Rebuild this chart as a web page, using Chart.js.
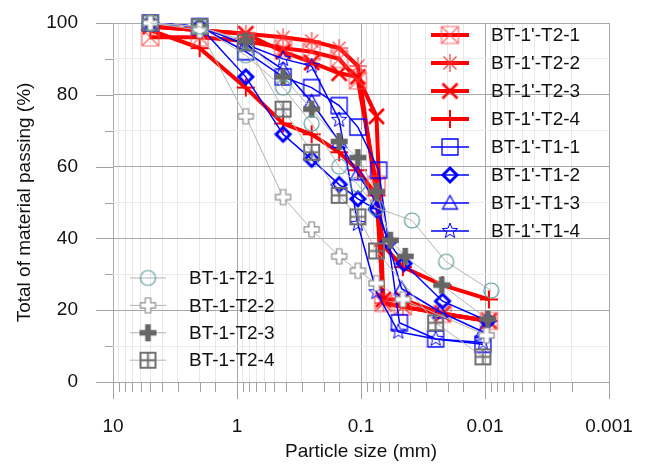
<!DOCTYPE html>
<html>
<head>
<meta charset="utf-8">
<script src="https://cdn.jsdelivr.net/npm/chart.js@4.4.1/dist/chart.umd.min.js"></script>
<style>
  body { margin: 0; background: #fff; }
  canvas { display: block; }
</style>
</head>
<body>
<canvas id="psd" width="646" height="465"></canvas>
<script>
// --- data (particle size in mm, % passing) ---
const seriesNames = [
    "BT-1'-T2-1", "BT-1'-T2-2", "BT-1'-T2-3", "BT-1'-T2-4",
    "BT-1'-T1-1", "BT-1'-T1-2", "BT-1'-T1-3", "BT-1'-T1-4",
    'BT-1-T2-1', 'BT-1-T2-2', 'BT-1-T2-3', 'BT-1-T2-4'
];

const sizesRed = [5, 2, 0.85, 0.425, 0.25, 0.15, 0.106, 0.075, 0.066, 0.046, 0.022, 0.0093];
const passT2p1 = [96, 96, 95, 93, 92, 90, 84, 55, 22, 21, 19, 17];
const passT2p2 = [99, 98, 97, 96, 95, 93, 88, 52, 22, 21, 19, 17];
const passT2p3 = [99, 98, 97, 92, 89, 86, 85, 74, 23, 23, 19, 17];
const passT2p4 = [98, 93, 82, 72, 69, 64, 59, 52, 38, 32, 27, 23];

const sizesT1p1 = [5, 2, 0.85, 0.425, 0.25, 0.15, 0.106, 0.072, 0.049, 0.025, 0.0104];
const passT1p1 = [100, 99, 92, 85, 82, 77, 71, 59, 16.5, 12, 10.5];
const sizesT1p2 = [5, 2, 0.85, 0.425, 0.25, 0.15, 0.106, 0.075, 0.06, 0.045, 0.022, 0.0095];
const passT1p2 = [100, 99, 85, 69, 62, 55, 51, 48, 39, 33, 22.5, 17];
const sizesT1p3 = [5, 2, 0.85, 0.425, 0.25, 0.15, 0.106, 0.075, 0.047, 0.023, 0.0104];
const passT1p3 = [100, 99, 94, 87, 78, 67, 58, 50, 26, 19.5, 14];
const sizesT1p4 = [5, 2, 0.85, 0.425, 0.25, 0.15, 0.106, 0.075, 0.05, 0.025, 0.0104];
const passT1p4 = [100, 99, 94, 90, 88, 73, 44, 25, 14, 12, 11];

const sizesT2_1 = [5, 2, 0.85, 0.425, 0.25, 0.15, 0.106, 0.075, 0.0388, 0.0206, 0.0089];
const passT2_1 = [100, 99, 91, 82, 72, 60, 55, 48.5, 45, 33.5, 25.5];
const sizesT2_2 = [5, 2, 0.85, 0.425, 0.25, 0.15, 0.106, 0.075, 0.046, 0.0097];
const passT2_2 = [100, 98, 74, 51.5, 42.5, 35, 31, 27.5, 23, 13];
const sizesT2_3 = [5, 2, 0.85, 0.425, 0.25, 0.15, 0.106, 0.075, 0.058, 0.044, 0.0223, 0.0095];
const passT2_3 = [100, 99, 95, 85, 76, 67, 62.5, 53, 39.5, 35, 27, 17.5];
const sizesT2_4 = [5, 2, 0.85, 0.425, 0.25, 0.15, 0.106, 0.075, 0.025, 0.0104];
const passT2_4 = [100, 99, 94.5, 76, 64, 52, 46, 36.5, 16.5, 7];

const xTickLabels = ['10', '1', '0.1', '0.01', '0.001'];
const yTickLabels = [0, 20, 40, 60, 80, 100];

// --- marker images ---
function marker(kind, size, color, lw) {
    const pad = 3;
    const c = document.createElement('canvas');
    c.width = c.height = Math.ceil(size + pad * 2);
    const g = c.getContext('2d');
    const m = c.width / 2, r = size / 2;
    g.strokeStyle = color;
    g.fillStyle = color;
    g.lineWidth = lw;
    g.beginPath();
    if (kind === 'boxX') {
        g.rect(m - r, m - r, size, size);
        g.moveTo(m - r, m - r); g.lineTo(m + r, m + r);
        g.moveTo(m + r, m - r); g.lineTo(m - r, m + r);
        g.stroke();
    } else if (kind === 'aster') {
        g.moveTo(m, m - r); g.lineTo(m, m + r);
        g.moveTo(m - r, m); g.lineTo(m + r, m);
        const d = r * 0.72;
        g.moveTo(m - d, m - d); g.lineTo(m + d, m + d);
        g.moveTo(m + d, m - d); g.lineTo(m - d, m + d);
        g.stroke();
    } else if (kind === 'x') {
        g.moveTo(m - r, m - r); g.lineTo(m + r, m + r);
        g.moveTo(m + r, m - r); g.lineTo(m - r, m + r);
        g.stroke();
    } else if (kind === 'plus') {
        g.moveTo(m, m - r); g.lineTo(m, m + r);
        g.moveTo(m - r, m); g.lineTo(m + r, m);
        g.stroke();
    } else if (kind === 'square') {
        g.rect(m - r, m - r, size, size);
        g.stroke();
    } else if (kind === 'diamond') {
        g.moveTo(m, m - r); g.lineTo(m + r, m); g.lineTo(m, m + r); g.lineTo(m - r, m); g.closePath();
        g.stroke();
    } else if (kind === 'triangle') {
        g.moveTo(m, m - r); g.lineTo(m + r, m + r * 0.8); g.lineTo(m - r, m + r * 0.8); g.closePath();
        g.stroke();
    } else if (kind === 'star') {
        for (let i = 0; i < 10; i++) {
            const a = -Math.PI / 2 + i * Math.PI / 5;
            const rr = i % 2 === 0 ? r : r * 0.42;
            const px = m + rr * Math.cos(a), py = m + rr * Math.sin(a);
            if (i === 0) g.moveTo(px, py); else g.lineTo(px, py);
        }
        g.closePath();
        g.stroke();
    } else if (kind === 'circle') {
        g.arc(m, m, r, 0, Math.PI * 2);
        g.stroke();
    } else if (kind === 'openPlus') {
        const a = r * 0.36;
        g.moveTo(m - a, m - r); g.lineTo(m + a, m - r); g.lineTo(m + a, m - a); g.lineTo(m + r, m - a);
        g.lineTo(m + r, m + a); g.lineTo(m + a, m + a); g.lineTo(m + a, m + r); g.lineTo(m - a, m + r);
        g.lineTo(m - a, m + a); g.lineTo(m - r, m + a); g.lineTo(m - r, m - a); g.lineTo(m - a, m - a);
        g.closePath();
        g.fillStyle = '#fff';
        g.fill();
        g.stroke();
    } else if (kind === 'fatPlus') {
        const a = r * 0.33;
        g.fillRect(m - a, m - r, 2 * a, size);
        g.fillRect(m - r, m - a, size, 2 * a);
    } else if (kind === 'gridSq') {
        g.rect(m - r, m - r, size, size);
        g.moveTo(m, m - r); g.lineTo(m, m + r);
        g.moveTo(m - r, m); g.lineTo(m + r, m);
        g.stroke();
    }
    return c;
}

const RED = '#ff0000', BLUE = '#0000ff', GREYLINE = '#b4b4b4';

const markers = [
    marker('boxX', 17, 'rgba(255,70,70,0.8)', 1.2),
    marker('aster', 18, 'rgba(255,40,40,0.85)', 1.3),
    marker('x', 15, RED, 2.6),
    marker('plus', 18, RED, 2),
    marker('square', 16, BLUE, 1.3),
    marker('diamond', 14, BLUE, 3),
    marker('triangle', 15, BLUE, 1.3),
    marker('star', 16, BLUE, 1),
    marker('circle', 15, '#5f9c9c', 1.2),
    marker('openPlus', 15, '#8c8c8c', 1.2),
    marker('fatPlus', 17, '#666666', 1),
    marker('gridSq', 15, '#707070', 2)
];

const xsList = [sizesRed, sizesRed, sizesRed, sizesRed, sizesT1p1, sizesT1p2, sizesT1p3, sizesT1p4,
    sizesT2_1, sizesT2_2, sizesT2_3, sizesT2_4];
const ysList = [passT2p1, passT2p2, passT2p3, passT2p4, passT1p1, passT1p2, passT1p3, passT1p4,
    passT2_1, passT2_2, passT2_3, passT2_4];

const datasets = seriesNames.map((name, i) => {
    const group = i < 4 ? 'red' : (i < 8 ? 'blue' : 'grey');
    return {
        label: name,
        data: xsList[i].map((x, k) => ({ x, y: ysList[i][k] })),
        borderColor: group === 'red' ? RED : group === 'blue' ? BLUE : GREYLINE,
        borderWidth: group === 'red' ? 4 : group === 'blue' ? 1.5 : 1,
        pointStyle: markers[i],
        pointRadius: 8,
        tension: 0,
        fill: false,
        clip: false,
        order: group === 'grey' ? 1 : group === 'blue' ? 2 : 3
    };
});

function isMajor(v) {
    const r = v / Math.pow(10, Math.floor(Math.log10(v) + 1e-9));
    return Math.abs(r - 1) < 1e-6;
}

// tick marks outside the plot (long for decades, short for the rest)
const tickMarks = {
    id: 'tickMarks',
    afterDraw(chart) {
        const ctx = chart.ctx;
        const xs = chart.scales.x, ys = chart.scales.y;
        ctx.save();
        ctx.strokeStyle = '#a0a0a0';
        ctx.lineWidth = 1;
        ctx.beginPath();
        xs.ticks.forEach(t => {
            const px = Math.round(xs.getPixelForValue(t.value)) + 0.5;
            ctx.moveTo(px, ys.bottom);
            ctx.lineTo(px, ys.bottom + (isMajor(t.value) ? 17 : 10));
        });
        for (let v = 0; v <= 100; v += 10) {
            const py = Math.round(ys.getPixelForValue(v)) + 0.5;
            ctx.moveTo(xs.left, py);
            ctx.lineTo(xs.left - (v % 20 === 0 ? 17 : 8), py);
        }
        ctx.stroke();
        ctx.restore();
    }
};

// two legend blocks drawn inside the plot
const legendBlocks = {
    id: 'legendBlocks',
    afterDraw(chart) {
        const ctx = chart.ctx;
        ctx.save();
        ctx.font = '19px "Liberation Sans", Arial, sans-serif';
        ctx.fillStyle = '#111';
        ctx.textBaseline = 'middle';
        const drawItem = (i, x0, x1, y, tx) => {
            const ds = chart.data.datasets[i];
            ctx.strokeStyle = ds.borderColor;
            ctx.lineWidth = ds.borderWidth;
            ctx.beginPath();
            ctx.moveTo(x0, y);
            ctx.lineTo(x1, y);
            ctx.stroke();
            const img = ds.pointStyle;
            ctx.drawImage(img, (x0 + x1) / 2 - img.width / 2, y - img.height / 2);
            ctx.fillText(ds.label, tx, y + 1);
        };
        for (let i = 0; i < 8; i++) drawItem(i, 431, 469, 35 + i * 28, 491);
        for (let i = 0; i < 4; i++) drawItem(8 + i, 130, 166, 278 + i * 27.4, 189);
        ctx.restore();
    }
};

new Chart(document.getElementById('psd'), {
    type: 'line',
    data: { datasets },
    options: {
        responsive: false,
        animation: false,
        layout: { autoPadding: false, padding: { left: 0, right: 37, top: 23, bottom: 0 } },
        plugins: { legend: { display: false }, tooltip: { enabled: false } },
        scales: {
            x: {
                type: 'logarithmic',
                reverse: true,
                min: 0.001,
                max: 10,
                afterFit(scale) { scale.height = 83; scale.paddingLeft = 0; scale.paddingRight = 0; },
                grid: {
                    drawTicks: false,
                    color: ctx => isMajor(ctx.tick.value) ? '#a8a8a8' : '#e8e8e8'
                },
                border: { display: false },
                ticks: {
                    autoSkip: false,
                    maxRotation: 0,
                    padding: 33,
                    color: '#111',
                    font: { family: '"Liberation Sans", Arial, sans-serif', size: 19 },
                    callback: value => {
                        if (!isMajor(value)) return '';
                        const s = String(Number(value.toPrecision(1)));
                        return xTickLabels.includes(s) ? s : '';
                    }
                },
                title: {
                    display: true,
                    text: 'Particle size (mm)',
                    color: '#111',
                    font: { family: '"Liberation Sans", Arial, sans-serif', size: 19 },
                    padding: { top: 0, bottom: 2 }
                }
            },
            y: {
                min: 0,
                max: 100,
                afterFit(scale) { scale.width = 113; scale.paddingTop = 0; scale.paddingBottom = 0; },
                grid: {
                    drawTicks: false,
                    color: ctx => ctx.tick.value % 20 === 0 ? '#a8a8a8' : '#ececec'
                },
                border: { display: false },
                ticks: {
                    stepSize: 10,
                    padding: 35,
                    color: '#111',
                    font: { family: '"Liberation Sans", Arial, sans-serif', size: 19 },
                    callback: value => yTickLabels.includes(value) ? value : ''
                },
                title: {
                    display: true,
                    text: 'Total of material passing (%)',
                    color: '#111',
                    font: { family: '"Liberation Sans", Arial, sans-serif', size: 19 },
                    padding: { top: 13, bottom: 0 }
                }
            }
        }
    },
    plugins: [tickMarks, legendBlocks]
});
</script>
</body>
</html>
